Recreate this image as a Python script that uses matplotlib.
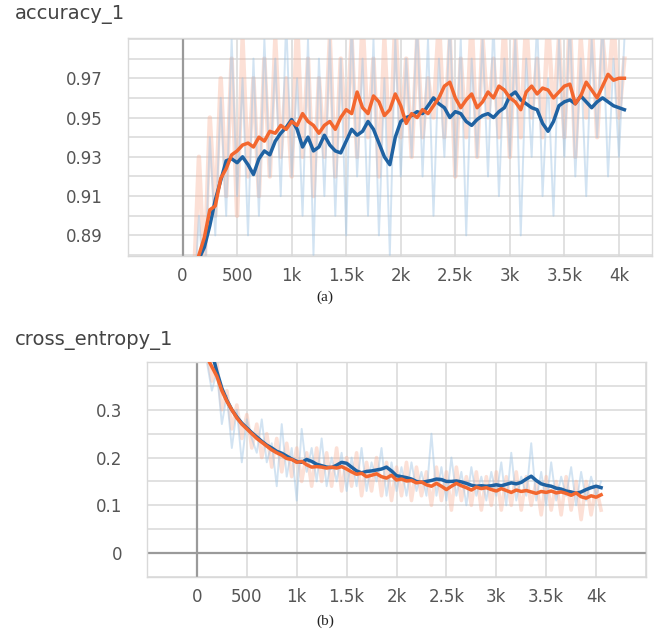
import matplotlib
matplotlib.use("Agg")
import matplotlib.pyplot as plt
from matplotlib.ticker import FixedLocator

# ---------------- data ----------------
steps_smooth = [150, 200, 250, 300, 350, 400, 450, 500, 550, 600, 650, 700, 750, 800, 850, 900, 950,
                1000, 1050, 1100, 1150, 1200, 1250, 1300, 1350, 1400, 1450, 1500, 1550, 1600, 1650,
                1700, 1750, 1800, 1850, 1900, 1950, 2000, 2050, 2100, 2150, 2200, 2250, 2300, 2350,
                2400, 2450, 2500, 2550, 2600, 2650, 2700, 2750, 2800, 2850, 2900, 2950, 3000, 3050,
                3100, 3150, 3200, 3250, 3300, 3350, 3400, 3450, 3500, 3550, 3600, 3650, 3700, 3750,
                3800, 3850, 3900, 3950, 4000, 4050]

acc_blue_smooth = [0.878, 0.884, 0.895, 0.908, 0.918, 0.928, 0.929, 0.927, 0.930, 0.926, 0.921, 0.929,
                   0.933, 0.931, 0.938, 0.942, 0.945, 0.949, 0.944, 0.935, 0.940, 0.933, 0.935, 0.941,
                   0.936, 0.933, 0.932, 0.938, 0.944, 0.941, 0.943, 0.948, 0.944, 0.937, 0.930, 0.926,
                   0.940, 0.948, 0.950, 0.951, 0.953, 0.952, 0.956, 0.960, 0.957, 0.955, 0.950, 0.953,
                   0.952, 0.948, 0.946, 0.949, 0.951, 0.952, 0.950, 0.953, 0.955, 0.961, 0.963, 0.959,
                   0.957, 0.955, 0.954, 0.947, 0.943, 0.948, 0.956, 0.958, 0.959, 0.957, 0.961, 0.958,
                   0.955, 0.958, 0.960, 0.958, 0.956, 0.955, 0.954]

acc_orange_smooth = [0.880, 0.889, 0.903, 0.905, 0.919, 0.924, 0.931, 0.933, 0.936, 0.937, 0.935, 0.940,
                     0.938, 0.943, 0.942, 0.946, 0.944, 0.948, 0.946, 0.952, 0.948, 0.946, 0.942, 0.946,
                     0.948, 0.944, 0.950, 0.954, 0.952, 0.963, 0.955, 0.952, 0.961, 0.958, 0.951, 0.954,
                     0.962, 0.956, 0.947, 0.952, 0.950, 0.954, 0.952, 0.956, 0.960, 0.966, 0.968, 0.960,
                     0.955, 0.959, 0.962, 0.955, 0.958, 0.963, 0.960, 0.966, 0.964, 0.960, 0.958, 0.954,
                     0.963, 0.966, 0.962, 0.965, 0.964, 0.960, 0.963, 0.966, 0.967, 0.957, 0.961, 0.968,
                     0.964, 0.960, 0.966, 0.972, 0.969, 0.970, 0.970]

steps_ce_smooth = [100] + steps_smooth

ce_blue_smooth = [0.460, 0.420, 0.380, 0.345, 0.320, 0.300, 0.285, 0.272, 0.262, 0.252, 0.243, 0.234,
                  0.226, 0.220, 0.213, 0.209, 0.203, 0.197, 0.192, 0.190, 0.196, 0.192, 0.186, 0.183,
                  0.180, 0.179, 0.184, 0.190, 0.188, 0.180, 0.172, 0.168, 0.171, 0.172, 0.174, 0.176,
                  0.180, 0.172, 0.162, 0.160, 0.158, 0.155, 0.150, 0.148, 0.150, 0.152, 0.155, 0.154,
                  0.150, 0.150, 0.151, 0.149, 0.146, 0.142, 0.140, 0.141, 0.140, 0.141, 0.143, 0.141,
                  0.144, 0.147, 0.145, 0.148, 0.155, 0.161, 0.152, 0.145, 0.142, 0.140, 0.136, 0.134,
                  0.130, 0.128, 0.125, 0.128, 0.133, 0.137, 0.140, 0.137]

ce_orange_smooth = [0.410, 0.390, 0.370, 0.340, 0.318, 0.300, 0.283, 0.270, 0.260, 0.250, 0.240, 0.232,
                    0.224, 0.216, 0.210, 0.205, 0.198, 0.196, 0.190, 0.192, 0.185, 0.180, 0.181, 0.180,
                    0.178, 0.180, 0.178, 0.181, 0.176, 0.170, 0.165, 0.167, 0.160, 0.163, 0.166, 0.160,
                    0.157, 0.163, 0.153, 0.155, 0.151, 0.152, 0.147, 0.149, 0.143, 0.140, 0.146, 0.140,
                    0.133, 0.140, 0.146, 0.141, 0.137, 0.132, 0.138, 0.135, 0.137, 0.133, 0.130, 0.135,
                    0.131, 0.127, 0.132, 0.129, 0.131, 0.128, 0.125, 0.129, 0.127, 0.130, 0.126, 0.128,
                    0.125, 0.121, 0.126, 0.118, 0.115, 0.120, 0.117, 0.122]

steps_raw = steps_ce_smooth

acc_orange_raw = [0.86, 0.93, 0.87, 0.95, 0.90, 0.97, 0.91, 0.98, 0.90, 0.99, 0.92, 0.97, 0.91, 0.98, 0.92,
                  0.99, 0.93, 0.97, 0.92, 1.00, 0.93, 0.98, 0.91, 0.97, 0.93, 0.99, 0.92, 0.98, 0.94, 0.99,
                  0.93, 1.00, 0.94, 0.98, 0.92, 0.99, 0.93, 1.00, 0.94, 0.98, 0.93, 0.99, 0.94, 0.97, 0.95,
                  1.00, 0.94, 0.99, 0.92, 0.98, 0.94, 1.00, 0.93, 0.99, 0.95, 0.98, 0.94, 1.00, 0.93, 0.99,
                  0.94, 1.00, 0.95, 0.98, 0.94, 1.00, 0.95, 0.99, 0.94, 1.00, 0.93, 0.99, 0.95, 1.00, 0.94,
                  0.99, 0.96, 1.00, 0.95, 0.98]

acc_blue_raw = [0.85, 0.90, 0.86, 0.94, 0.89, 0.96, 0.90, 0.99, 0.91, 0.97, 0.89, 0.98, 0.90, 0.99, 0.92,
                0.98, 0.91, 1.00, 0.92, 0.97, 0.90, 0.99, 0.88, 0.98, 0.91, 0.99, 0.90, 0.98, 0.89, 1.00,
                0.92, 0.98, 0.90, 0.99, 0.89, 0.97, 0.88, 0.99, 0.92, 0.98, 0.93, 1.00, 0.92, 0.99, 0.90,
                0.98, 0.93, 1.00, 0.92, 0.99, 0.89, 0.98, 0.93, 0.99, 0.92, 1.00, 0.91, 0.98, 0.93, 0.99,
                0.89, 0.98, 0.93, 1.00, 0.91, 0.97, 0.90, 0.99, 0.93, 1.00, 0.92, 0.98, 0.91, 0.99, 0.94,
                1.00, 0.92, 0.98, 0.93, 0.99]

ce_orange_raw = [0.42, 0.36, 0.40, 0.30, 0.34, 0.26, 0.31, 0.24, 0.29, 0.22, 0.27, 0.20, 0.25, 0.18, 0.24,
                 0.17, 0.23, 0.16, 0.22, 0.15, 0.21, 0.14, 0.22, 0.15, 0.21, 0.14, 0.22, 0.13, 0.20, 0.14,
                 0.21, 0.12, 0.19, 0.13, 0.20, 0.12, 0.19, 0.11, 0.18, 0.12, 0.19, 0.11, 0.18, 0.12, 0.17,
                 0.10, 0.18, 0.11, 0.17, 0.09, 0.18, 0.11, 0.16, 0.10, 0.17, 0.09, 0.16, 0.10, 0.17, 0.09,
                 0.16, 0.10, 0.17, 0.09, 0.16, 0.10, 0.15, 0.08, 0.16, 0.09, 0.15, 0.08, 0.16, 0.09, 0.15,
                 0.07, 0.15, 0.08, 0.14, 0.09]

ce_blue_raw = [0.40, 0.34, 0.38, 0.27, 0.33, 0.22, 0.30, 0.19, 0.28, 0.24, 0.21, 0.28, 0.19, 0.23, 0.14,
               0.27, 0.16, 0.22, 0.11, 0.26, 0.17, 0.22, 0.15, 0.24, 0.14, 0.20, 0.15, 0.21, 0.13, 0.20,
               0.14, 0.22, 0.13, 0.19, 0.15, 0.22, 0.12, 0.19, 0.13, 0.18, 0.12, 0.19, 0.13, 0.17, 0.12,
               0.25, 0.12, 0.18, 0.11, 0.20, 0.12, 0.17, 0.10, 0.18, 0.12, 0.16, 0.11, 0.17, 0.12, 0.19,
               0.10, 0.21, 0.11, 0.16, 0.12, 0.23, 0.11, 0.17, 0.10, 0.19, 0.11, 0.16, 0.12, 0.18, 0.10,
               0.17, 0.11, 0.16, 0.12, 0.15]

x_ticks = [0, 500, 1000, 1500, 2000, 2500, 3000, 3500, 4000]
x_tick_labels = ["0", "500", "1k", "1.5k", "2k", "2.5k", "3k", "3.5k", "4k"]
acc_ticks = [0.89, 0.91, 0.93, 0.95, 0.97]
ce_ticks = [0.0, 0.1, 0.2, 0.3]
ce_tick_labels = ["0", "0.1", "0.2", "0.3"]

# ---------------- style ----------------
BLUE = "#1f62a2"
ORANGE = "#f3672f"
RAW_BLUE = "#9cc3e4"
RAW_ORANGE = "#f8b39a"
GRID = "#d9d9d9"
ZERO = "#9a9a9a"
TXT = "#555555"

plt.rcParams["font.family"] = ["DejaVu Sans"]

fig = plt.figure(figsize=(6.54, 6.32), dpi=100)
W, H = 654, 632


def add_ax(l, r, t, b):
    return fig.add_axes([l / W, 1 - b / H, (r - l) / W, (b - t) / H])


def style(ax, xmax, ymin, ymax, minor_y, yticks, ylabels):
    ax.set_xlim(-500, xmax)
    ax.set_ylim(ymin, ymax)
    for s in ax.spines.values():
        s.set_color(GRID)
        s.set_linewidth(1.0)
    ax.xaxis.set_major_locator(FixedLocator(x_ticks))
    ax.set_xticklabels(x_tick_labels)
    ax.xaxis.set_minor_locator(FixedLocator([-500, 4500]))
    ax.yaxis.set_major_locator(FixedLocator(yticks))
    ax.set_yticklabels(ylabels)
    ax.yaxis.set_minor_locator(FixedLocator(minor_y))
    ax.tick_params(axis="both", which="both", length=0, colors=TXT, labelsize=12)
    ax.tick_params(axis="x", pad=8)
    ax.tick_params(axis="y", pad=18)
    ax.grid(True, which="both", color=GRID, linewidth=1.1)
    ax.set_axisbelow(True)
    ax.axvline(0, color=ZERO, linewidth=1.6, zorder=1)


# ---- (a) accuracy ----
ax1 = add_ax(128, 652, 38, 256)
ax1.plot(steps_raw, acc_orange_raw, color=RAW_ORANGE, lw=3.2, alpha=0.4, zorder=2)
ax1.plot(steps_raw, acc_blue_raw, color=RAW_BLUE, lw=1.4, alpha=0.45, zorder=2)
ax1.plot(steps_smooth, acc_blue_smooth, color=BLUE, lw=2.5, zorder=4, solid_joinstyle="round")
ax1.plot(steps_smooth, acc_orange_smooth, color=ORANGE, lw=2.5, zorder=5, solid_joinstyle="round")
style(ax1, 4303, 0.8795, 0.9905,
      [0.88, 0.90, 0.92, 0.94, 0.96, 0.98, 0.99],
      acc_ticks, [f"{v:.2f}" for v in acc_ticks])

# ---- (b) cross entropy ----
ax2 = add_ax(147, 646, 362, 577)
ax2.plot(steps_raw, ce_orange_raw, color=RAW_ORANGE, lw=2.6, alpha=0.4, zorder=2)
ax2.plot(steps_raw, ce_blue_raw, color=RAW_BLUE, lw=1.4, alpha=0.45, zorder=2)
ax2.plot(steps_ce_smooth, ce_blue_smooth, color=BLUE, lw=2.5, zorder=4, solid_joinstyle="round")
ax2.plot(steps_ce_smooth, ce_orange_smooth, color=ORANGE, lw=2.5, zorder=5, solid_joinstyle="round")
style(ax2, 4500, -0.05, 0.40,
      [-0.05, 0.05, 0.15, 0.25, 0.35, 0.40],
      ce_ticks, ce_tick_labels)
ax2.axhline(0, color=ZERO, linewidth=1.6, zorder=1)

# ---- texts ----
fig.text(15 / W, 1 - 15 / H, "accuracy_1", fontsize=14, color="#444444", va="center", ha="left")
fig.text(15 / W, 1 - 340 / H, "cross_entropy_1", fontsize=14, color="#444444", va="center", ha="left")
fig.text(325 / W, 1 - 297 / H, "(a)", fontsize=11, family="Liberation Serif", color="#222222",
         va="center", ha="center")
fig.text(325 / W, 1 - 621 / H, "(b)", fontsize=11, family="Liberation Serif", color="#222222",
         va="center", ha="center")

fig.savefig("out.png", dpi=100)
